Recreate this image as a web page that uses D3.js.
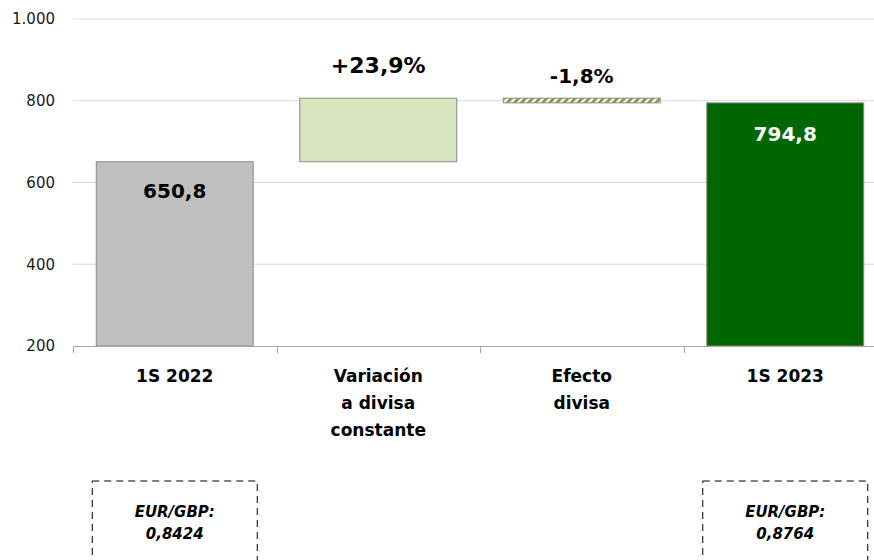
<!DOCTYPE html>
<html>
<head>
<meta charset="utf-8">
<script src="https://cdn.jsdelivr.net/npm/d3@7"></script>
<style>
  body { margin: 0; background: #fff; }
  svg text { font-family: 'Century Gothic', 'DejaVu Sans', sans-serif; }
</style>
</head>
<body>
<div class="box"></div>
<script>
// datos
const categorias = ['1S 2022', 'Variación a divisa constante', 'Efecto divisa', '1S 2023'];
const lineasCategoria = [['1S 2022'], ['Variación', 'a divisa', 'constante'], ['Efecto', 'divisa'], ['1S 2023']];
const base = [200, 650.8, 794.8, 200];
const tope = [650.8, 806.3, 806.3, 794.8];
const etiquetas = ['650,8', '+23,9%', '-1,8%', '794,8'];
const ticksY = [200, 400, 600, 800, 1000];
const cambio = [{i: 0, lineas: ['EUR/GBP:', '0,8424']}, {i: 3, lineas: ['EUR/GBP:', '0,8764']}];

const width = 874, height = 560;
const svg = d3.select('.box').append('svg')
              .attr('width', width)
              .attr('height', height);

// patrón rayado para el efecto divisa
const pat = svg.append('defs').append('pattern')
               .attr('id', 'rayas')
               .attr('patternUnits', 'userSpaceOnUse')
               .attr('width', 5).attr('height', 5)
               .attr('patternTransform', 'rotate(45)');
pat.append('rect').attr('width', 5).attr('height', 5).attr('fill', '#fff');
pat.append('rect').attr('width', 2.6).attr('height', 5).attr('fill', '#77933c');

const y = d3.scaleLinear().domain([200, 1000]).range([346, 19]);
const x = d3.scaleBand()
            .domain(categorias)
            .range([73, 887])
            .paddingInner(0.2286)
            .paddingOuter(0.1143);

const loc = d3.formatLocale({decimal: ',', thousands: '.', grouping: [3]});
const fmt = loc.format(',');

// rejilla
svg.append('g').selectAll('line')
   .data(ticksY.filter(d => d > 200))
   .enter().append('line')
   .attr('x1', 73).attr('x2', width)
   .attr('y1', d => y(d)).attr('y2', d => y(d))
   .attr('stroke', '#d9d9d9').attr('stroke-width', 1);

// eje Y (solo etiquetas)
const ejeY = d3.axisLeft(y).tickValues(ticksY).tickFormat(fmt).tickSize(0).tickPadding(18);
const gY = svg.append('g').attr('transform', 'translate(73,0)').call(ejeY);
gY.select('.domain').remove();
gY.selectAll('text').style('font-size', '15px').attr('fill', '#1a1a1a');

// barras
const colores = ['#bfbfbf', '#d7e4bd', 'url(#rayas)', '#006600'];
svg.append('g').selectAll('rect')
   .data(categorias)
   .enter().append('rect')
   .attr('x', d => x(d))
   .attr('width', x.bandwidth())
   .attr('y', (d, i) => y(tope[i]))
   .attr('height', (d, i) => y(base[i]) - y(tope[i]))
   .attr('fill', (d, i) => colores[i])
   .attr('stroke', '#8c8c8c')
   .attr('stroke-width', 1);

// eje X
svg.append('line')
   .attr('x1', 73).attr('x2', width)
   .attr('y1', 346.5).attr('y2', 346.5)
   .attr('stroke', '#a6a6a6');
svg.append('g').selectAll('line')
   .data(d3.range(4))
   .enter().append('line')
   .attr('x1', i => Math.round(x.range()[0] + i * x.step()) + 0.5)
   .attr('x2', i => Math.round(x.range()[0] + i * x.step()) + 0.5)
   .attr('y1', 346).attr('y2', 353)
   .attr('stroke', '#a6a6a6');

// etiquetas de categoría
const gCat = svg.append('g');
categorias.forEach((c, i) => {
  const t = gCat.append('text')
     .attr('x', x(c) + x.bandwidth() / 2)
     .attr('y', 382)
     .attr('text-anchor', 'middle')
     .style('font-size', '17px').style('font-weight', 'bold').attr('fill', '#000');
  lineasCategoria[i].forEach((l, k) => {
    t.append('tspan').attr('x', x(c) + x.bandwidth() / 2).attr('dy', k === 0 ? 0 : 27).text(l);
  });
});

// etiquetas de valor
const posEtiqueta = [
  {dy: 36, size: 20, color: '#000'},
  {dy: -25, size: 22, color: '#000'},
  {dy: -15, size: 20, color: '#000'},
  {dy: 38, size: 20, color: '#fff'}
];
svg.append('g').selectAll('text')
   .data(categorias)
   .enter().append('text')
   .attr('x', d => x(d) + x.bandwidth() / 2)
   .attr('y', (d, i) => y(tope[i]) + posEtiqueta[i].dy)
   .attr('text-anchor', 'middle')
   .style('font-size', (d, i) => posEtiqueta[i].size + 'px')
   .style('font-weight', 'bold')
   .attr('fill', (d, i) => posEtiqueta[i].color)
   .text((d, i) => etiquetas[i]);

// cajas tipo de cambio
cambio.forEach(cb => {
  const cx = x(categorias[cb.i]) + x.bandwidth() / 2;
  svg.append('rect')
     .attr('x', cx - 82.5).attr('y', 481)
     .attr('width', 165).attr('height', 100)
     .attr('fill', 'none')
     .attr('stroke', '#000')
     .attr('stroke-dasharray', '7,5')
     .attr('stroke-width', 1);
  const t = svg.append('text')
     .attr('x', cx).attr('y', 517)
     .attr('text-anchor', 'middle')
     .style('font-size', '15px').style('font-weight', 'bold').style('font-style', 'italic');
  cb.lineas.forEach((l, k) => {
    t.append('tspan').attr('x', cx).attr('dy', k === 0 ? 0 : 22).text(l);
  });
});
</script>
</body>
</html>
